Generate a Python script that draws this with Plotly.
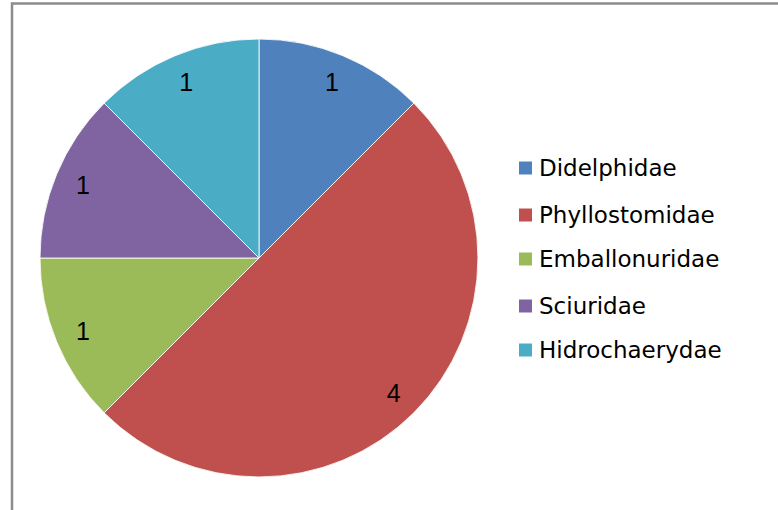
import plotly.graph_objects as go

W, H = 778, 510

families = ["Didelphidae", "Phyllostomidae", "Emballonuridae", "Sciuridae", "Hidrochaerydae"]
counts = [1, 4, 1, 1, 1]
colors = ["#4F81BD", "#C0504D", "#9BBB59", "#8064A2", "#4BACC6"]

# pie geometry (pixels)
cx, cy, r = 259, 258, 219
dom = dict(x=[(cx - r) / W, (cx + r) / W], y=[1 - (cy + r) / H, 1 - (cy - r) / H])

fig = go.Figure()
fig.add_trace(go.Pie(
    labels=families, values=counts, sort=False,
    direction="clockwise", rotation=0,
    marker=dict(colors=colors, line=dict(color="rgba(255,255,255,0.85)", width=1)),
    textinfo="none", domain=dom, showlegend=False,
    hoverinfo="label+value",
))
# transparent ring on top, only to put the value labels near the rim
fig.add_trace(go.Pie(
    labels=families, values=counts, sort=False,
    direction="clockwise", rotation=0, hole=0.74,
    marker=dict(colors=["rgba(0,0,0,0)"] * len(counts), line=dict(width=0)),
    textinfo="value", textposition="inside",
    insidetextorientation="horizontal",
    textfont=dict(family="Liberation Sans, Arial", size=25, color="black"),
    domain=dom, showlegend=False, hoverinfo="skip",
))

# legend drawn by hand to match spacing
leg_y = [168, 215, 259, 306, 350]
for name, col, y in zip(families, colors, leg_y):
    fig.add_shape(type="rect", xref="paper", yref="paper",
                  x0=519 / W, x1=532 / W, y0=1 - (y + 6.5) / H, y1=1 - (y - 6.5) / H,
                  fillcolor=col, line=dict(width=0))
    fig.add_annotation(x=537 / W, y=1 - y / H, xref="paper", yref="paper",
                       text=name, showarrow=False, xanchor="left", yanchor="middle",
                       font=dict(family="DejaVu Sans", size=23, color="black"))

# chart area frame
fig.add_shape(type="rect", xref="paper", yref="paper",
              x0=12 / W, x1=1.05, y0=-0.05, y1=1 - 3.5 / H,
              line=dict(color="#8c8c8c", width=2.5), fillcolor="rgba(0,0,0,0)")

fig.update_layout(
    width=W, height=H,
    margin=dict(l=0, r=0, t=0, b=0),
    paper_bgcolor="white",
    plot_bgcolor="white",
)

fig.write_html("out.html", config={"displayModeBar": False},
               post_script="document.body.style.margin='0';")
